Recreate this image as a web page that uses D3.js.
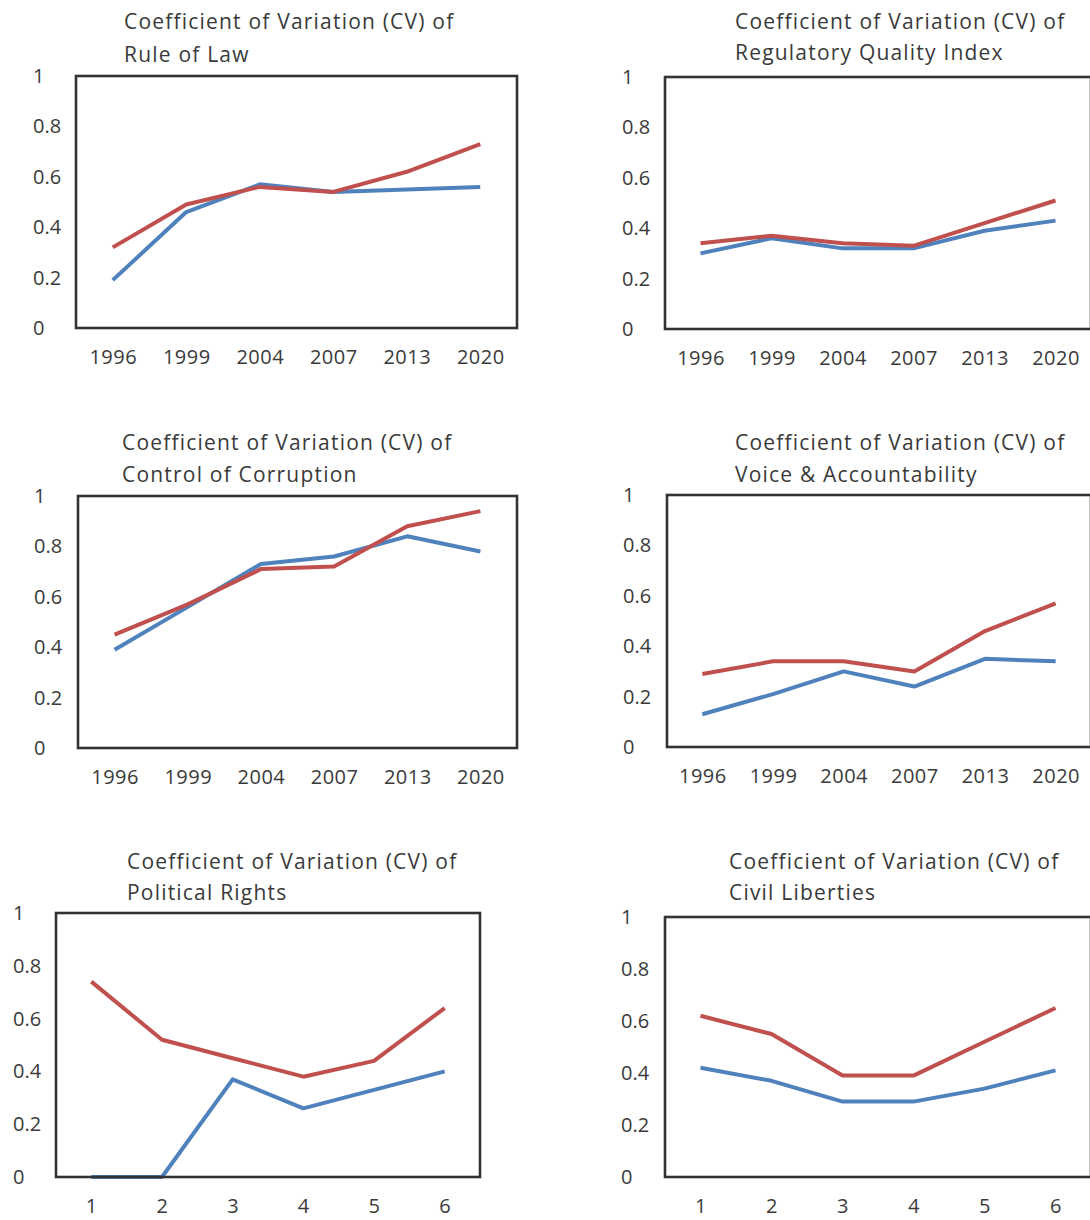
<!DOCTYPE html>
<html>
<head>
<meta charset="utf-8">
<script src="https://cdn.jsdelivr.net/npm/d3@7"></script>
<style>
  body { margin: 0; background: #fff; }
  svg { display: block; }
</style>
</head>
<body>
<svg id="chart" width="1090" height="1220"></svg>
<script>
// categories
var years = ["1996", "1999", "2004", "2007", "2013", "2020"];
var periods = ["1", "2", "3", "4", "5", "6"];
var yTicks = [0, 0.2, 0.4, 0.6, 0.8, 1];

// series values
var lawBlue = [0.19, 0.46, 0.57, 0.54, 0.55, 0.56];
var lawRed = [0.32, 0.49, 0.56, 0.54, 0.62, 0.73];
var regBlue = [0.30, 0.36, 0.32, 0.32, 0.39, 0.43];
var regRed = [0.34, 0.37, 0.34, 0.33, 0.42, 0.51];
var corBlue = [0.39, 0.56, 0.73, 0.76, 0.84, 0.78];
var corRed = [0.45, 0.57, 0.71, 0.72, 0.88, 0.94];
var voiceBlue = [0.13, 0.21, 0.30, 0.24, 0.35, 0.34];
var voiceRed = [0.29, 0.34, 0.34, 0.30, 0.46, 0.57];
var polBlue = [0, 0, 0.37, 0.26, 0.33, 0.40];
var polRed = [0.74, 0.52, 0.45, 0.38, 0.44, 0.64];
var civBlue = [0.42, 0.37, 0.29, 0.29, 0.34, 0.41];
var civRed = [0.62, 0.55, 0.39, 0.39, 0.52, 0.65];

var titleTop = "Coefficient of Variation (CV) of";
var titleNames = ["Rule of Law", "Regulatory Quality Index", "Control of Corruption",
                  "Voice & Accountability", "Political Rights", "Civil Liberties"];

var blue = "#4f81bd",
    red = "#c0504d",
    textCol = "#3a3a3a";

// layout of the six panels
var panels = [
  {cats: years,   blue: lawBlue,   red: lawRed,   name: titleNames[0], box: [76, 517, 76, 328],   labelX: 33,  title: [124, 22, 55]},
  {cats: years,   blue: regBlue,   red: regRed,   name: titleNames[1], box: [665, 1091, 77, 329], labelX: 622, title: [735, 22, 53]},
  {cats: years,   blue: corBlue,   red: corRed,   name: titleNames[2], box: [78, 517, 496, 748],  labelX: 34,  title: [122, 443, 475]},
  {cats: years,   blue: voiceBlue, red: voiceRed, name: titleNames[3], box: [667, 1091, 495, 747], labelX: 623, title: [735, 443, 475]},
  {cats: periods, blue: polBlue,   red: polRed,   name: titleNames[4], box: [56, 480, 913, 1177], labelX: 13,  title: [127, 862, 893]},
  {cats: periods, blue: civBlue,   red: civRed,   name: titleNames[5], box: [665, 1091, 917, 1177], labelX: 621, title: [729, 862, 893]}
];

var svg = d3.select("#chart");

panels.forEach(drawPanel);

function drawPanel(p) {
  var left = p.box[0], right = p.box[1], top = p.box[2], bottom = p.box[3];

  var x = d3.scalePoint()
      .domain(p.cats)
      .range([left, right])
      .padding(0.5);
  var y = d3.scaleLinear()
      .domain([0, 1])
      .range([bottom, top]);

  var g = svg.append("g");

  // title, two lines
  var title = g.append("text")
      .attr("x", p.title[0])
      .attr("fill", textCol)
      .style("font-family", "'Open Sans', sans-serif")
      .style("font-size", "21px")
      .style("letter-spacing", "1.2px");
  title.append("tspan").attr("x", p.title[0]).attr("y", p.title[1]).attr("dy", "0.35em").text(titleTop);
  title.append("tspan").attr("x", p.title[0]).attr("y", p.title[2]).attr("dy", "0.35em").text(p.name);

  // y axis labels only
  var yAxis = g.append("g")
      .attr("transform", "translate(" + left + ",0)")
      .call(d3.axisLeft(y).tickValues(yTicks).tickSize(0).tickFormat(d3.format("")));
  yAxis.select(".domain").remove();
  yAxis.selectAll("text")
      .attr("x", p.labelX - left)
      .attr("text-anchor", "start")
      .attr("fill", textCol)
      .style("font-family", "'Open Sans', sans-serif")
      .style("font-size", "20px");

  // x axis labels only
  var xAxis = g.append("g")
      .attr("transform", "translate(0," + bottom + ")")
      .call(d3.axisBottom(x).tickSize(0));
  xAxis.select(".domain").remove();
  xAxis.selectAll("text")
      .attr("y", 29)
      .attr("dy", "0.35em")
      .attr("fill", textCol)
      .style("font-family", "'Open Sans', sans-serif")
      .style("font-size", "20px")
      .style("letter-spacing", "0.5px");

  // lines
  var line = d3.line()
      .x(function(d, i) { return x(p.cats[i]); })
      .y(function(d) { return y(d); });

  [[p.blue, blue], [p.red, red]].forEach(function(s) {
    g.append("path")
        .datum(s[0])
        .attr("d", line)
        .attr("fill", "none")
        .attr("stroke", s[1])
        .attr("stroke-width", 4)
        .attr("stroke-linejoin", "round");
  });

  // plot frame
  g.append("rect")
      .attr("x", left)
      .attr("y", top)
      .attr("width", right - left)
      .attr("height", bottom - top)
      .attr("fill", "none")
      .attr("stroke", "#333")
      .attr("stroke-width", 2.6);
}
</script>
</body>
</html>
